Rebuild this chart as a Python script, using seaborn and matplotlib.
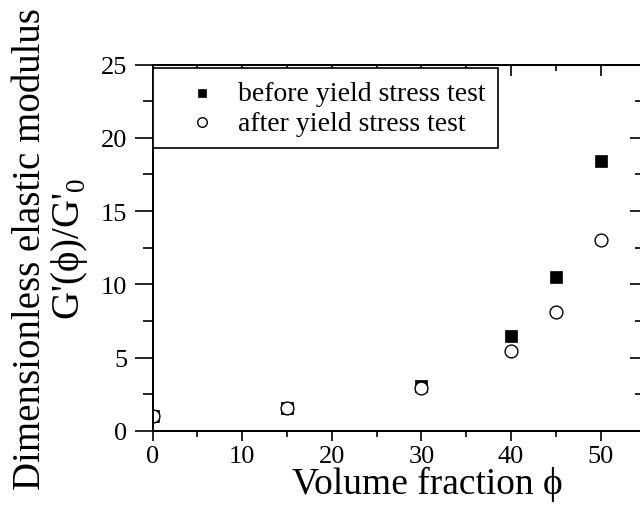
#-------------------------------------------
# Elastic modulus vs volume fraction,
# before and after the yield stress test
#-------------------------------------------

import numpy as np
import pandas as pd
import matplotlib.pyplot as plt
from matplotlib.ticker import MultipleLocator
import seaborn as sns

#------------------ DATA -------------------------------------------

phi = [0, 15, 30, 40, 45, 50]
g_before = [1.0, 1.6, 3.1, 6.5, 10.5, 18.4]
g_after = [1.0, 1.55, 2.9, 5.45, 8.1, 13.0]

label_before = "before yield stress test"
label_after = "after yield stress test"

#------------------ STYLE ------------------------------------------

sns.set_style("ticks")
plt.rcParams['font.family'] = ['Liberation Serif', 'DejaVu Serif']
plt.rcParams['mathtext.fontset'] = 'custom'
plt.rcParams['mathtext.rm'] = 'Liberation Serif'
plt.rcParams['axes.linewidth'] = 1.3
plt.rcParams['axes.edgecolor'] = 'black'
plt.rcParams['xtick.color'] = 'black'
plt.rcParams['ytick.color'] = 'black'
plt.rcParams['text.color'] = 'black'
plt.rcParams['axes.labelcolor'] = 'black'

fig = plt.figure(figsize = (6.4, 5.1), dpi = 100)
W, H = 640, 510
ax = fig.add_axes([152.5 / W, 1 - 432 / H, (641.5 - 152.5) / W, (432 - 65.5) / H])

#------------------ PLOT -------------------------------------------

sns.scatterplot(x = phi, y = g_before, marker = 's', s = 66, color = 'black',
                edgecolor = 'black', linewidth = 0.5, label = label_before, ax = ax, zorder = 3)
sns.scatterplot(x = phi, y = g_after, marker = 'o', s = 85, color = 'white',
                edgecolor = 'black', linewidth = 1.0, label = label_after, ax = ax, zorder = 4)

handles, labels = ax.get_legend_handles_labels()
ax.get_legend().remove()

ax.set_xlim(0, 54.55)
ax.set_ylim(0, 25)
ax.xaxis.set_major_locator(MultipleLocator(10))
ax.xaxis.set_minor_locator(MultipleLocator(5))
ax.yaxis.set_major_locator(MultipleLocator(5))
ax.yaxis.set_minor_locator(MultipleLocator(2.5))

ax.tick_params(axis = 'x', which = 'major', direction = 'out', length = 7, width = 1.2,
               labelsize = 19, pad = 3)
ax.tick_params(axis = 'x', which = 'minor', direction = 'out', length = 4, width = 1.2)
ax.tick_params(axis = 'y', which = 'major', direction = 'out', length = 13, width = 1.2,
               labelsize = 19, pad = 5)
ax.tick_params(axis = 'y', which = 'minor', direction = 'out', length = 7, width = 1.2)

# Inward ticks on top and right

axt = ax.twiny()
axt.set_xlim(ax.get_xlim())
axt.xaxis.set_major_locator(MultipleLocator(10))
axt.xaxis.set_minor_locator(MultipleLocator(5))
axt.tick_params(axis = 'x', which = 'major', direction = 'in', length = 8, width = 1.2, labeltop = False)
axt.tick_params(axis = 'x', which = 'minor', direction = 'in', length = 4, width = 1.2)

axr = ax.twinx()
axr.set_ylim(ax.get_ylim())
axr.yaxis.set_major_locator(MultipleLocator(5))
axr.yaxis.set_minor_locator(MultipleLocator(2.5))
axr.tick_params(axis = 'y', which = 'major', direction = 'in', length = 9, width = 1.2, labelright = False)
axr.tick_params(axis = 'y', which = 'minor', direction = 'in', length = 5, width = 1.2)

# Labels

ax.set_xlabel("Volume fraction ϕ", fontsize = 27)
ax.xaxis.set_label_coords(0.563, -0.095)
ax.set_ylabel("Dimensionless elastic modulus\nG'(ϕ)/G'$_0$", fontsize = 28, linespacing = 1.0)
ax.yaxis.set_label_coords(-0.128, 0.5)

# Legend

leg = axr.legend(handles, labels, loc = 'upper left', bbox_to_anchor = (0.001, 0.99),
                 borderaxespad = 0, fontsize = 20, frameon = True, fancybox = False,
                 edgecolor = 'black', framealpha = 1, labelspacing = 0.15, borderpad = 0.45,
                 handlelength = 2.6, handletextpad = 0.0, markerscale = 0.75)
leg.get_frame().set_linewidth(1.2)

plt.savefig('out.png', dpi = 100)
